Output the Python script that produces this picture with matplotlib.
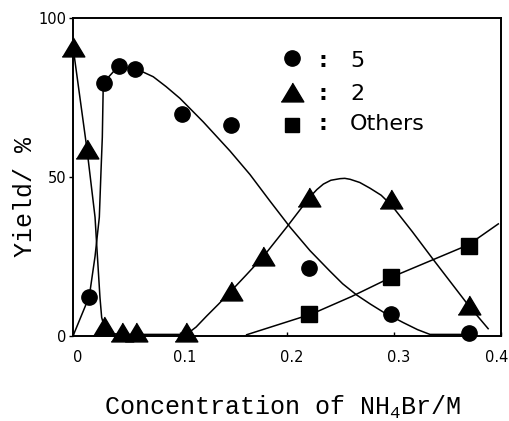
import matplotlib
matplotlib.use("Agg")
import matplotlib.pyplot as plt
import matplotlib.transforms as mtransforms

# ---- data ----
circ_x = [0.015, 0.029, 0.0427, 0.058, 0.102, 0.1477, 0.221, 0.2975, 0.370]
circ_y = [12.4, 79.4, 84.8, 83.7, 69.8, 66.4, 21.5, 6.9, 0.8]

tri_x = [0.0, 0.013, 0.029, 0.046, 0.059, 0.106, 0.1477, 0.178, 0.221, 0.2975, 0.370]
tri_y = [90.8, 58.8, 3.2, 1.4, 1.4, 1.4, 14.1, 25.0, 43.5, 43.0, 9.7]

sq_x = [0.221, 0.2975, 0.370]
sq_y = [6.9, 18.5, 28.3]

# hand-drawn guide curves
circ_curve_x = [0.0, 0.0152, 0.0206, 0.0246, 0.0262, 0.0274, 0.0283, 0.0427, 0.058,
                0.066, 0.075, 0.087, 0.100, 0.1218, 0.1467, 0.1654, 0.184, 0.2028,
                0.2215, 0.240, 0.252, 0.265, 0.278, 0.290, 0.3087, 0.322, 0.3336, 0.370]
circ_curve_y = [0.0, 12.4, 25.0, 37.3, 52.0, 62.4, 79.5, 84.8, 83.7,
                82.8, 81.4, 78.3, 74.6, 67.2, 58.1, 50.7, 42.4, 34.2,
                26.8, 20.4, 16.4, 12.9, 10.0, 7.5, 4.2, 2.0, 0.5, 0.5]

tri_curve_x = [0.0, 0.013, 0.0206, 0.0221, 0.0252, 0.0268, 0.029, 0.035, 0.046, 0.106,
               0.115, 0.125, 0.136, 0.1477, 0.162, 0.178, 0.200, 0.221, 0.228, 0.234,
               0.241, 0.2495, 0.254, 0.259, 0.268, 0.2776, 0.288, 0.2978, 0.317,
               0.3367, 0.3694, 0.388]
tri_curve_y = [90.8, 58.8, 37.3, 28.9, 12.1, 5.8, 3.2, 0.8, 0.5, 0.5,
               2.8, 6.3, 10.0, 14.1, 19.2, 25.0, 34.3, 43.5, 46.0, 47.7,
               48.9, 49.4, 49.5, 49.2, 48.2, 46.4, 44.2, 41.0, 32.8,
               24.0, 9.7, 2.3]

oth_curve_x = [0.1623, 0.223, 0.2604, 0.2978, 0.3694, 0.3975]
oth_curve_y = [0.4, 6.9, 12.4, 18.5, 28.6, 35.2]

x_ticks = [0, 0.1, 0.2, 0.3, 0.4]
x_tick_labels = ["0", "0.1", "0.2", "0.3", "0.4"]
y_ticks = [0, 50, 100]
y_tick_labels = ["0", "50", "100"]

legend_labels = ["5", "2", "Others"]

# ---- figure ----
W, H = 509, 421
fig = plt.figure(figsize=(W / 100, H / 100), dpi=100)
L, R, T, B = 73, 501, 17.5, 336
ax = fig.add_axes([L / W, 1 - B / H, (R - L) / W, (B - T) / H])

tri_marker = [(-1.2, -1.0), (1.2, -1.0), (0.0, 1.0)]

lw = 1.1
ax.plot(circ_curve_x, circ_curve_y, color="black", lw=lw, zorder=2)
ax.plot(tri_curve_x, tri_curve_y, color="black", lw=lw, zorder=2)
ax.plot(oth_curve_x, oth_curve_y, color="black", lw=lw, zorder=2)

ax.plot(circ_x, circ_y, linestyle="none", marker="o", ms=11, color="black", zorder=3, clip_on=False)
ax.plot(tri_x, tri_y, linestyle="none", marker=tri_marker, ms=16.3, color="black", zorder=3, clip_on=False)
ax.plot(sq_x, sq_y, linestyle="none", marker="s", ms=11.5, color="black", zorder=3, clip_on=False)

ax.set_xlim(0, 0.4)
ax.set_ylim(0, 100)

for s in ax.spines.values():
    s.set_linewidth(1.4)

tick_font = dict(family="DejaVu Sans", size=10.5)
ax.set_xticks(x_ticks)
ax.set_xticklabels(x_tick_labels, **tick_font)
ax.set_yticks(y_ticks)
ax.set_yticklabels(y_tick_labels, **tick_font)
ax.tick_params(axis="x", direction="in", length=3, width=1, pad=10)
ax.tick_params(axis="y", direction="out", length=3, width=1, pad=2)
off = mtransforms.ScaledTranslation(5 / 100, 0, fig.dpi_scale_trans)
xlabs = ax.get_xticklabels()
for lab in xlabs[:-1]:
    lab.set_transform(lab.get_transform() + off)
# last label sits at the right edge of the figure: keep it fully inside
xlabs[-1].set_horizontalalignment("right")
xlabs[-1].set_transform(xlabs[-1].get_transform()
                        + mtransforms.ScaledTranslation(7 / 100, 0, fig.dpi_scale_trans))

# axis labels
ax.set_xlabel(r"Concentration of NH$_\mathregular{4}$Br/M", family="Liberation Mono", size=18)
ax.xaxis.label.set_va("baseline")
ax.xaxis.set_label_coords((282.5 - L) / (R - L), (B - 415) / (B - T))
ax.set_ylabel("Yield/ %", family="Liberation Mono", size=18)
ax.yaxis.label.set_va("baseline")
ax.yaxis.set_label_coords((32 - L) / (R - L), (B - 197) / (B - T))

# legend (manual layout)
def ax_x(px):
    return (px - L) / (R - L)

def ax_y(py):
    return (B - py) / (B - T)

leg_markers = [dict(marker="o", ms=11), dict(marker=tri_marker, ms=16.3), dict(marker="s", ms=10.5)]
leg_marker_y = [58.3, 91.7, 125.0]
leg_base_y = [66.7, 100.0, 130.0]
for mk, my, by, lab in zip(leg_markers, leg_marker_y, leg_base_y, legend_labels):
    ax.plot([ax_x(291.7)], [ax_y(my)], linestyle="none", color="black",
            transform=ax.transAxes, clip_on=False, **mk)
    ax.text(ax_x(323), ax_y(by), ":", transform=ax.transAxes, ha="center", va="baseline",
            family="DejaVu Sans", size=16, weight="bold")
    ax.text(ax_x(350), ax_y(by), lab, transform=ax.transAxes, ha="left", va="baseline",
            family="DejaVu Sans", size=16)

fig.savefig("out.png", dpi=100)
